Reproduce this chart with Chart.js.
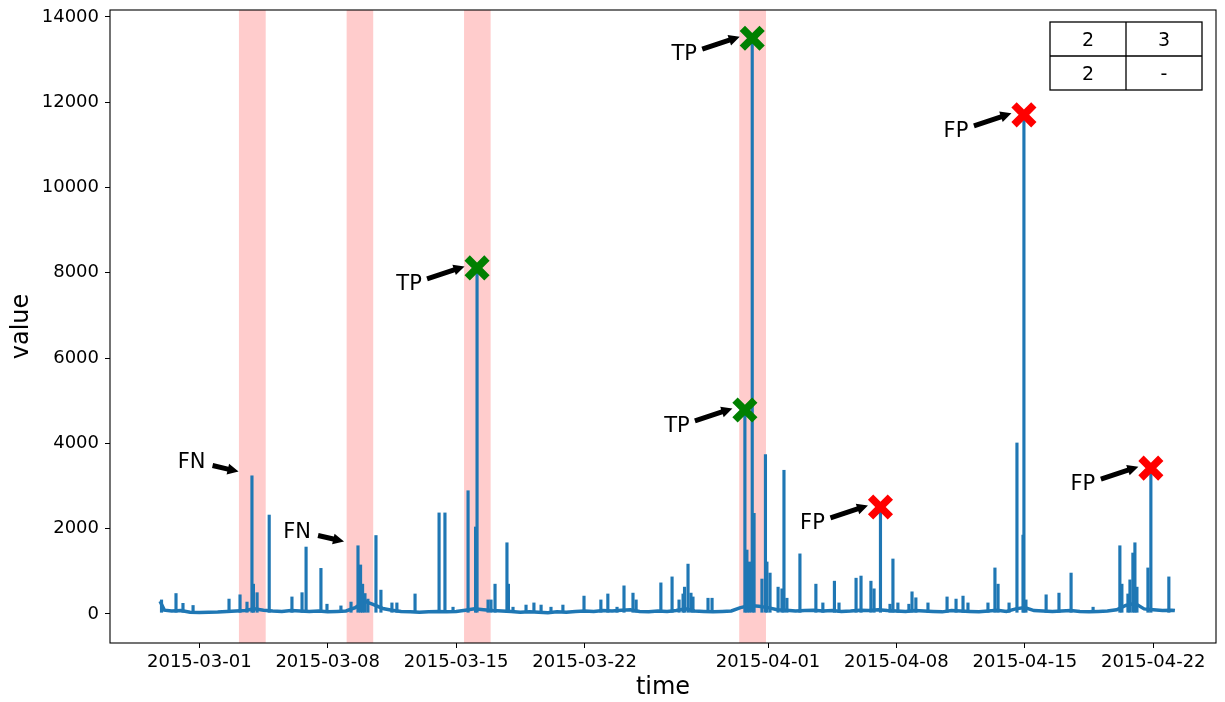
<!DOCTYPE html>
<html>
<head>
<meta charset="utf-8">
<script src="https://cdn.jsdelivr.net/npm/chart.js@4.4.1/dist/chart.umd.min.js"></script>
<style>
  html, body { margin: 0; padding: 0; background: #fff; }
  #wrap { width: 1225px; height: 702px; }
</style>
</head>
<body>
<div id="wrap"><canvas id="chart" width="1225" height="702"></canvas></div>
<script>
// days are counted from 2015-03-01 00:00
const tickLabels = ['2015-03-01', '2015-03-08', '2015-03-15', '2015-03-22',
                    '2015-04-01', '2015-04-08', '2015-04-15', '2015-04-22'];
const yTicks = [0, 2000, 4000, 6000, 8000, 10000, 12000, 14000];

// slow background level of the series
const baseDays = [
  -2.14, -1.9, -1.5, -1.0, -0.5, 0.0, 0.5, 1.0, 1.5, 2.0,
  2.5, 3.0, 3.5, 4.0, 4.5, 5.0, 5.5, 6.0, 6.5, 7.0,
  7.5, 8.0, 8.5, 9.0, 9.5, 10.0, 10.5, 11.0, 11.5, 12.0,
  12.5, 13.0, 13.5, 14.0, 14.5, 15.0, 15.5, 16.0, 16.5, 17.0,
  17.5, 18.0, 18.5, 19.0, 19.5, 20.0, 20.5, 21.0, 21.5, 22.0,
  22.5, 23.0, 23.5, 24.0, 24.5, 25.0, 25.5, 26.0, 26.5, 27.0,
  27.5, 28.0, 28.5, 29.0, 29.5, 30.0, 30.5, 31.0, 31.5, 32.0,
  32.5, 33.0, 33.5, 34.0, 34.5, 35.0, 35.5, 36.0, 36.5, 37.0,
  37.5, 38.0, 38.5, 39.0, 39.5, 40.0, 40.5, 41.0, 41.5, 42.0,
  42.5, 43.0, 43.5, 44.0, 44.5, 45.0, 45.5, 46.0, 46.5, 47.0,
  47.5, 48.0, 48.5, 49.0, 49.5, 50.0, 50.5, 51.0, 51.5, 52.0,
  52.5, 53.0, 53.18
];
const baseValues = [
  300, 90, 70, 80, 40, 35, 40, 45, 60, 70,
  80, 120, 90, 70, 60, 80, 70, 60, 70, 50,
  60, 70, 150, 300, 220, 130, 90, 60, 50, 40,
  50, 60, 50, 60, 90, 120, 100, 80, 70, 60,
  40, 50, 40, 30, 50, 40, 60, 70, 60, 80,
  70, 90, 100, 60, 50, 70, 60, 80, 120, 70,
  60, 50, 60, 70, 150, 200, 180, 150, 100, 90,
  70, 80, 90, 70, 80, 60, 70, 90, 80, 100,
  80, 70, 60, 80, 70, 60, 50, 80, 70, 60,
  50, 70, 90, 60, 120, 150, 80, 70, 60, 70,
  80, 60, 50, 60, 70, 100, 200, 250, 120, 100,
  80, 90, 80
];

// short spikes on top of the background
const spikeDays = [
  -2.06, -1.27, -0.89, -0.34, 1.62, 2.22, 2.60, 2.87, 2.95, 3.15,
  3.81, 5.05, 5.60, 5.82, 6.63, 6.96, 7.72, 8.27, 8.65, 8.79,
  8.90, 9.03, 9.19, 9.63, 9.90, 10.50, 10.77, 11.76, 13.07, 13.39,
  13.83, 14.65, 15.06, 15.14, 15.74, 15.90, 16.12, 16.77, 16.85, 17.10,
  17.81, 18.24, 18.63, 19.17, 19.82, 20.97, 21.89, 22.27, 22.77, 23.15,
  23.64, 23.81, 25.16, 25.77, 26.15, 26.37, 26.45, 26.64, 26.80, 26.91,
  27.73, 27.95, 29.74, 29.85, 29.99, 30.14, 30.24, 30.67, 30.86, 30.94,
  31.11, 31.55, 31.76, 31.87, 32.03, 32.74, 33.61, 33.99, 34.62, 34.87,
  35.80, 36.07, 36.61, 36.78, 37.13, 37.65, 37.81, 38.08, 38.68, 38.85,
  39.06, 39.72, 40.76, 41.25, 41.63, 41.90, 42.99, 43.37, 43.54, 44.14,
  44.57, 44.90, 44.95, 45.06, 46.16, 46.86, 47.52, 48.72, 50.18, 50.29,
  50.62, 50.73, 50.89, 51.00, 51.11, 51.71, 51.87, 52.85
];
const spikeValues = [
  330, 480, 250, 200, 350, 450, 280, 3240, 700, 500,
  2320, 400, 500, 1570, 1070, 230, 190, 280, 1600, 1150,
  700, 480, 350, 1840, 560, 260, 260, 470, 2370, 2370,
  160, 2890, 2040, 8114, 330, 330, 700, 1670, 700, 160,
  210, 260, 210, 160, 210, 420, 330, 470, 160, 660,
  490, 330, 730, 870, 330, 470, 630, 1170, 490, 400,
  370, 370, 4784, 1500, 1220, 13500, 2360, 820, 3740, 1220,
  960, 630, 590, 3370, 370, 1410, 700, 260, 770, 260,
  840, 890, 770, 590, 2509, 230, 1290, 260, 230, 520,
  380, 260, 400, 350, 420, 260, 260, 1080, 700, 260,
  4010, 1850, 11703, 330, 450, 490, 960, 160, 1600, 700,
  470, 800, 1430, 1670, 630, 1080, 3420, 870
];

// labelled anomaly windows
const regionStart = [2.16, 8.03, 14.43, 29.43];
const regionEnd = [3.62, 9.48, 15.88, 30.89];

// detections
const tpDays = [15.14, 29.74, 30.14];
const tpValues = [8114, 4784, 13500];
const fpDays = [37.13, 44.95, 51.87];
const fpValues = [2509, 11703, 3420];
const fnDays = [2.14, 7.89];
const fnValues = [3340, 1700];

const tableRows = [['2', '3'], ['2', '-']];

const day0 = Date.parse('2015-03-01');
const tickDays = tickLabels.map(s => (Date.parse(s) - day0) / 864e5);
const pts = (xs, ys) => xs.map((d, i) => ({ x: d, y: ys[i] }));

const FONT = '"DejaVu Sans", sans-serif';
Chart.defaults.font.family = FONT;
Chart.defaults.color = '#000';

function arrow(ctx, x0, y0, x1, y1) {
  const dx = x1 - x0, dy = y1 - y0, len = Math.hypot(dx, dy);
  const ux = dx / len, uy = dy / len, nx = -uy, ny = ux;
  const hl = 11, hw = 5.5, sw = 2.5;
  const bx = x1 - ux * hl, by = y1 - uy * hl;
  ctx.beginPath();
  ctx.moveTo(x0 + nx * sw, y0 + ny * sw);
  ctx.lineTo(bx + nx * sw, by + ny * sw);
  ctx.lineTo(bx + nx * hw, by + ny * hw);
  ctx.lineTo(x1, y1);
  ctx.lineTo(bx - nx * hw, by - ny * hw);
  ctx.lineTo(bx - nx * sw, by - ny * sw);
  ctx.lineTo(x0 - nx * sw, y0 - ny * sw);
  ctx.closePath();
  ctx.fill();
}

const shading = {
  id: 'shading',
  beforeDatasetsDraw(chart) {
    const { ctx, chartArea: a, scales: { x } } = chart;
    ctx.save();
    ctx.fillStyle = 'rgba(255, 0, 0, 0.2)';
    regionStart.forEach((s, i) => {
      const x0 = x.getPixelForValue(s), x1 = x.getPixelForValue(regionEnd[i]);
      ctx.fillRect(x0, a.top, x1 - x0, a.bottom - a.top);
    });
    ctx.restore();
  }
};

const notes = {
  id: 'notes',
  afterDatasetsDraw(chart) {
    const { ctx, scales: { x, y } } = chart;
    ctx.save();
    ctx.fillStyle = '#000';
    ctx.font = '21px ' + FONT;
    ctx.textAlign = 'center';
    ctx.textBaseline = 'alphabetic';
    fnDays.forEach((d, i) => {
      const px = x.getPixelForValue(d), py = y.getPixelForValue(fnValues[i]);
      ctx.fillText('FN', px - 47, py - 11 + 7.7);
      arrow(ctx, px - 26, py - 6, px, py);
    });
    const marked = (label, days, vals) => days.forEach((d, i) => {
      const px = x.getPixelForValue(d), py = y.getPixelForValue(vals[i]);
      ctx.fillText(label, px - 68, py + 14 + 7.7);
      arrow(ctx, px - 50, py + 11, px - 12.5, py - 1.5);
    });
    marked('TP', tpDays, tpValues);
    marked('FP', fpDays, fpValues);
    ctx.restore();
  }
};

const frame = {
  id: 'frame',
  afterDraw(chart) {
    const { ctx, chartArea: a } = chart;
    ctx.save();
    ctx.strokeStyle = '#000';
    ctx.lineWidth = 1.1;
    ctx.strokeRect(a.left, a.top, a.right - a.left, a.bottom - a.top);

    // summary table in the upper right corner
    const cw = 76, ch = 34;
    const right = a.right - 14, top = a.top + 12;
    const left = right - cw * 2;
    ctx.lineWidth = 1.3;
    ctx.strokeRect(left, top, cw * 2, ch * 2);
    ctx.beginPath();
    ctx.moveTo(left + cw, top); ctx.lineTo(left + cw, top + ch * 2);
    ctx.moveTo(left, top + ch); ctx.lineTo(right, top + ch);
    ctx.stroke();
    ctx.fillStyle = '#000';
    ctx.font = '19px ' + FONT;
    ctx.textAlign = 'center';
    ctx.textBaseline = 'alphabetic';
    tableRows.forEach((row, r) => row.forEach((t, c) => {
      ctx.fillText(t, left + cw * c + cw / 2, top + ch * r + ch / 2 + 7);
    }));
    ctx.restore();
  }
};

new Chart(document.getElementById('chart'), {
  type: 'line',
  data: {
    datasets: [
      {
        label: 'tp',
        data: pts(tpDays, tpValues),
        showLine: false,
        pointStyle: 'crossRot',
        pointRadius: 14,
        pointBorderWidth: 7.5,
        pointBorderColor: '#008000',
        pointBackgroundColor: '#008000',
        order: 0
      },
      {
        label: 'fp',
        data: pts(fpDays, fpValues),
        showLine: false,
        pointStyle: 'crossRot',
        pointRadius: 14,
        pointBorderWidth: 7.5,
        pointBorderColor: '#ff0000',
        pointBackgroundColor: '#ff0000',
        order: 0
      },
      {
        type: 'bar',
        label: 'spikes',
        data: pts(spikeDays, spikeValues),
        backgroundColor: '#1f77b4',
        barThickness: 2.5,
        grouped: false,
        base: 40,
        order: 1
      },
      {
        label: 'value',
        data: pts(baseDays, baseValues),
        borderColor: '#1f77b4',
        borderWidth: 3.5,
        pointRadius: 0,
        tension: 0,
        order: 2
      }
    ]
  },
  options: {
    responsive: false,
    animation: false,
    events: [],
    layout: { autoPadding: false, padding: { top: 10, right: 9, left: 0, bottom: 0 } },
    plugins: { legend: { display: false }, tooltip: { enabled: false } },
    scales: {
      x: {
        type: 'linear',
        offset: false,
        min: -4.868,
        max: 55.42,
        afterBuildTicks: s => { s.ticks = tickDays.map(v => ({ value: v })); },
        afterFit: s => { s.height = 59; s.paddingLeft = 0; s.paddingRight = 0; },
        ticks: {
          callback: (v, i) => tickLabels[i],
          font: { size: 18 },
          color: '#000',
          maxRotation: 0,
          autoSkip: false,
          padding: 4
        },
        grid: { offset: false, drawOnChartArea: false, drawTicks: true, tickLength: 5, tickColor: '#000' },
        border: { display: false },
        title: { display: true, text: 'time', font: { size: 24 }, color: '#000', padding: { top: 0, bottom: 0 } }
      },
      y: {
        type: 'linear',
        min: -680,
        max: 14161,
        afterBuildTicks: s => { s.ticks = yTicks.map(v => ({ value: v })); },
        afterFit: s => { s.width = 110; s.paddingTop = 0; s.paddingBottom = 0; },
        ticks: {
          callback: v => String(v),
          font: { size: 18 },
          color: '#000',
          padding: 6
        },
        grid: { offset: false, drawOnChartArea: false, drawTicks: true, tickLength: 5, tickColor: '#000' },
        border: { display: false },
        title: { display: true, text: 'value', font: { size: 24 }, color: '#000', padding: { top: 7, bottom: 0 } }
      }
    }
  },
  plugins: [shading, notes, frame]
});
</script>
</body>
</html>
